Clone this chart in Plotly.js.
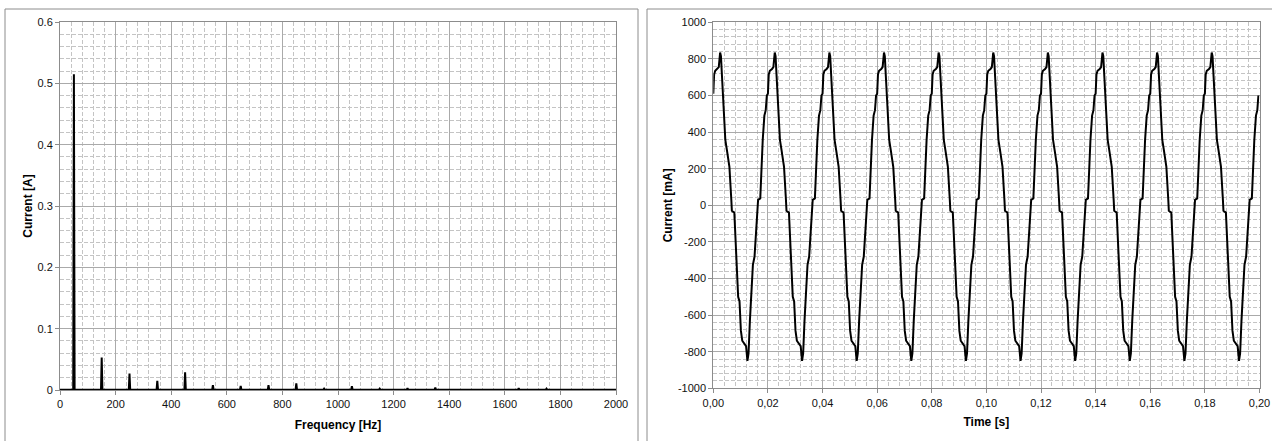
<!DOCTYPE html>
<html>
<head>
<meta charset="utf-8">
<script src="https://cdn.plot.ly/plotly-3.0.1.min.js"></script>
<style>
  html, body { margin: 0; padding: 0; background: #ffffff; }
  #chart { width: 1272px; height: 441px; }
</style>
</head>
<body>
<div id="chart"></div>
<script>
// ---------- Spectrum data (left chart) ----------
const harmonicFreqHz = [50, 150, 250, 350, 450, 550, 650, 750, 850, 950, 1050, 1150, 1250, 1350, 1450, 1550, 1650, 1750, 1850, 1950];
const harmonicAmpA   = [0.515, 0.053, 0.027, 0.015, 0.029, 0.008, 0.0065, 0.008, 0.011, 0.002, 0.006, 0.002, 0.003, 0.004, 0.001, 0.0015, 0.003, 0.002, 0.001, 0.001];
const spectrumBaseA  = 0.0005;
const spectrumRangeHz = [0, 2000];
const freqTicks = [0, 200, 400, 600, 800, 1000, 1200, 1400, 1600, 1800, 2000];

// ---------- Waveform data (right chart) ----------
// one period of the measured current, phase in s and value in mA
const periodPhaseS = [0, 0.0003, 0.0007, 0.0015, 0.0020, 0.0025, 0.0028, 0.0032, 0.0038, 0.0044, 0.0050, 0.0059, 0.0066, 0.0068, 0.0077, 0.0080, 0.0085, 0.0091, 0.0096, 0.0101, 0.0106, 0.0114, 0.0120, 0.0125, 0.0129, 0.0134, 0.0140, 0.0145, 0.0151, 0.0158, 0.0162, 0.0164, 0.0172, 0.0175, 0.0181, 0.0187, 0.0192, 0.0196];
const periodCurrentMA = [610, 715, 735, 745, 755, 835, 815, 700, 520, 357, 300, 210, 30, -30, -40, -150, -300, -500, -525, -685, -740, -755, -770, -850, -810, -630, -445, -325, -280, -135, 0, 30, 38, 175, 357, 490, 520, 600];
const cycleStartS = [0, 0.02, 0.04, 0.06, 0.08, 0.10, 0.12, 0.14, 0.16, 0.18];
const timeTickVals = [0, 0.02, 0.04, 0.06, 0.08, 0.10, 0.12, 0.14, 0.16, 0.18, 0.20];
const timeTickText = ["0,00", "0,02", "0,04", "0,06", "0,08", "0,10", "0,12", "0,14", "0,16", "0,18", "0,20"];
const currentTickVals = [1000, 800, 600, 400, 200, 0, -200, -400, -600, -800, -1000];
const currentTickText = ["1000", "800", "600", "400", "200", "0", "-200", "-400", "-600", "-800", "-1000"];

// ---------- Build traces ----------
const specX = [spectrumRangeHz[0]], specY = [spectrumBaseA];
const halfWidth = 2.5;
harmonicFreqHz.forEach((f, i) => {
  specX.push(f - halfWidth, f, f + halfWidth);
  specY.push(spectrumBaseA, harmonicAmpA[i], spectrumBaseA);
});
specX.push(spectrumRangeHz[1]); specY.push(spectrumBaseA);

const waveX = [], waveY = [];
cycleStartS.forEach(t0 => {
  periodPhaseS.forEach((p, i) => {
    waveX.push(+(t0 + p).toFixed(5));
    waveY.push(periodCurrentMA[i]);
  });
});

const W = 1272, H = 441;
const px = v => v / W;
const py = v => (H - v) / H;

const tickFont = { family: 'Liberation Sans, Arial, sans-serif', size: 11, color: '#111' };
const titleFont = { family: 'Liberation Sans, Arial, sans-serif', size: 12, color: '#000', weight: 'bold' };
const majorGrid = '#aaaaaa';
const minorGrid = '#c4c4c4';
const minorDash = '4px,2px';
const axisLine = '#8c8c8c';

const commonAxis = {
  showline: true, linecolor: axisLine, linewidth: 1, mirror: true,
  showgrid: true, gridcolor: majorGrid, gridwidth: 1,
  zeroline: false,
  ticks: 'outside', ticklen: 4, tickcolor: axisLine,
  tickfont: tickFont, fixedrange: true
};

const traces = [
  { x: specX, y: specY, type: 'scatter', mode: 'lines', xaxis: 'x', yaxis: 'y',
    line: { color: '#000', width: 2 }, hoverinfo: 'skip', showlegend: false },
  { x: waveX, y: waveY, type: 'scatter', mode: 'lines', xaxis: 'x2', yaxis: 'y2',
    line: { color: '#000', width: 2 }, hoverinfo: 'skip', showlegend: false }
];

const layout = {
  width: W, height: H,
  margin: { l: 0, r: 0, t: 0, b: 0 },
  paper_bgcolor: '#ffffff', plot_bgcolor: '#ffffff',
  showlegend: false,
  xaxis: Object.assign({}, commonAxis, {
    domain: [px(60), px(616)], anchor: 'y',
    range: spectrumRangeHz, tickvals: freqTicks,
    minor: { dtick: 40, tick0: 0, showgrid: true, gridcolor: minorGrid, griddash: minorDash, gridwidth: 1 },
    title: { text: 'Frequency [Hz]', font: titleFont, standoff: 11 }
  }),
  yaxis: Object.assign({}, commonAxis, {
    domain: [py(390), py(22)], anchor: 'x',
    range: [0, 0.6], dtick: 0.1, tickformat: '.1~f',
    minor: { dtick: 0.02, tick0: 0, showgrid: true, gridcolor: minorGrid, griddash: minorDash, gridwidth: 1 },
    title: { text: 'Current [A]', font: titleFont, standoff: 2 }
  }),
  xaxis2: Object.assign({}, commonAxis, {
    domain: [px(713.3), px(1259.5)], anchor: 'y2',
    range: [0, 0.2], tickmode: 'array', tickvals: timeTickVals, ticktext: timeTickText,
    minor: { tickmode: 'linear', dtick: 0.004, tick0: 0, showgrid: true, gridcolor: minorGrid, griddash: minorDash, gridwidth: 1 },
    title: { text: 'Time [s]', font: titleFont, standoff: 10 }
  }),
  yaxis2: Object.assign({}, commonAxis, {
    domain: [py(388.3), py(22.3)], anchor: 'x2',
    range: [-1000, 1000], tickmode: 'array', tickvals: currentTickVals, ticktext: currentTickText,
    minor: { tickmode: 'linear', dtick: 40, tick0: 0, showgrid: true, gridcolor: minorGrid, griddash: minorDash, gridwidth: 1 },
    title: { text: 'Current [mA]', font: titleFont, standoff: 2 }
  }),
  shapes: [
    { type: 'rect', xref: 'paper', yref: 'paper', x0: px(5), x1: px(638), y0: -0.2, y1: py(9),
      line: { color: '#8c8c8c', width: 1 }, fillcolor: 'rgba(0,0,0,0)', layer: 'below' },
    { type: 'rect', xref: 'paper', yref: 'paper', x0: px(647), x1: 1.2, y0: -0.2, y1: py(9),
      line: { color: '#8c8c8c', width: 1 }, fillcolor: 'rgba(0,0,0,0)', layer: 'below' }
  ]
};

Plotly.newPlot('chart', traces, layout, { staticPlot: true, displayModeBar: false });
</script>
</body>
</html>
